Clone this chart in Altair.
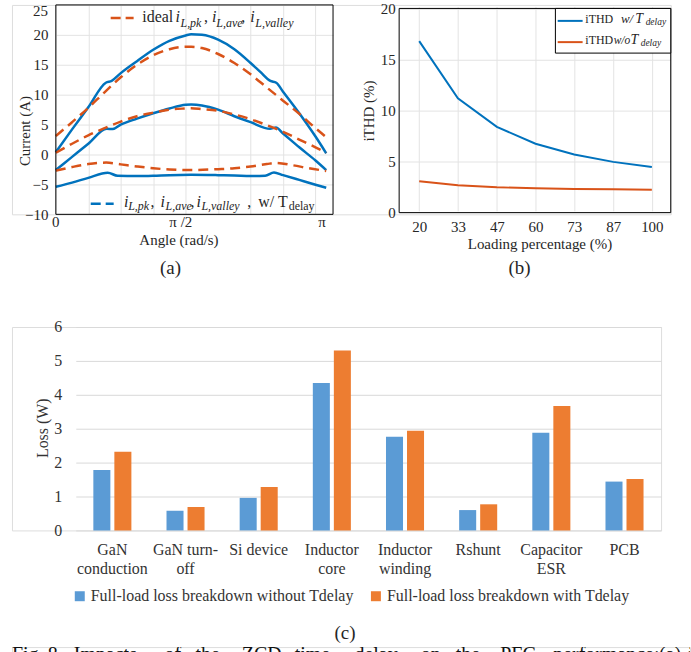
import altair as alt
import pandas as pd

FONT = "Liberation Serif"
TXT = "#262626"
BLUE = "#0072BD"
ORANGE = "#D95319"
GRID = "#e3e3e3"
XL_BLUE = "#5B9BD5"
XL_ORANGE = "#ED7D31"

# ---------------- (a) inductor current envelopes ----------------
# x: time inside a half line cycle in ms (8.33 ms = pi rad)
pk_t = [0, 0.5, 1.0, 1.54, 1.72, 2.0, 2.5, 3.0, 3.5, 4.0, 4.17, 4.5, 5.0, 5.5, 6.0, 6.3, 6.61, 6.79, 7.0, 7.5, 8.0, 8.33]
pk_delay = [0.4, 4.2, 7.9, 12.0, 12.3, 13.6, 15.6, 17.5, 19.0, 19.9, 20.1, 20.0, 19.2, 17.6, 15.3, 13.8, 12.3, 12.0, 10.5, 6.9, 3.0, 0.2]
ave_t = [0, 0.5, 1.0, 1.57, 1.75, 2.0, 2.5, 3.0, 3.5, 4.0, 4.17, 4.5, 5.0, 5.5, 6.0, 6.6, 6.78, 7.0, 7.5, 8.0, 8.33]
ave_delay = [-2.6, -0.4, 1.8, 4.3, 4.25, 5.0, 6.0, 6.9, 7.7, 8.3, 8.35, 8.2, 7.5, 6.4, 5.4, 4.3, 4.5, 3.5, 1.2, -1.0, -2.6]
val_t = [0, 0.5, 1.0, 1.6, 1.9, 2.5, 3.0, 3.5, 4.17, 5.0, 5.5, 6.0, 6.45, 6.72, 7.0, 7.5, 8.0, 8.33]
val_delay = [-5.4, -4.7, -3.9, -3.05, -3.55, -3.6, -3.55, -3.45, -3.4, -3.45, -3.5, -3.6, -3.55, -3.0, -3.45, -4.25, -5.05, -5.55]

id_t = [0, 0.5, 1.0, 1.5, 2.0, 2.5, 3.0, 3.5, 4.0, 4.17, 4.5, 5.0, 5.5, 6.0, 6.5, 7.0, 7.5, 8.0, 8.33]
pk_ideal = [3.1, 5.4, 7.8, 10.4, 12.9, 15.0, 16.6, 17.6, 18.0, 18.0, 17.8, 16.8, 15.3, 13.4, 11.2, 9.0, 6.8, 4.4, 2.9]
ave_ideal = [0.3, 1.8, 3.2, 4.4, 5.5, 6.4, 7.0, 7.5, 7.7, 7.75, 7.6, 7.3, 6.7, 5.9, 4.9, 3.8, 2.5, 1.2, 0.3]
vid_t = [0, 0.5, 1.0, 1.55, 2.0, 2.5, 3.0, 3.5, 4.17, 5.0, 5.5, 6.0, 6.5, 6.78, 7.3, 7.8, 8.33]
val_ideal = [-2.7, -2.1, -1.6, -1.35, -1.65, -2.0, -2.3, -2.5, -2.6, -2.45, -2.3, -2.0, -1.6, -1.4, -1.8, -2.3, -2.75]

a_tick_pos = [0, 3.85, 8.2]
a_tick_lab = ["0", "π /2", "π"]

# ---------------- (b) iTHD vs loading ----------------
load = [20, 33.3, 46.7, 60, 73.3, 86.7, 100]
thd_delay = [16.8, 11.2, 8.4, 6.75, 5.7, 4.97, 4.48]
thd_nodelay = [3.07, 2.68, 2.48, 2.39, 2.32, 2.29, 2.25]

# ---------------- (c) loss breakdown ----------------
cats = ["GaN|conduction", "GaN turn-|off", "Si device", "Inductor|core",
        "Inductor|winding", "Rshunt", "Capacitor|ESR", "PCB"]
loss_without = [1.78, 0.58, 0.96, 4.35, 2.76, 0.60, 2.88, 1.44]
loss_with = [2.32, 0.69, 1.28, 5.31, 2.94, 0.77, 3.67, 1.52]
series = ["Full-load loss breakdown without Tdelay", "Full-load loss breakdown with Tdelay"]

caption_words = ["Fig.", "8.", "Impacts", "of", "the", "ZCD", "time", "delay", "on", "the",
                 "PFC", "performance:", "(a)", "inductor"]
caption_x = [0, 36, 62, 153, 184, 230.5, 283.6, 343.5, 410, 445, 489.7, 542.8, 649, 678]


def dummy():
    return alt.Data(values=[{"k": 0}])


def note(text, x, y, size, italic=False, align="left", baseline="alphabetic", color=TXT, clip=False):
    kw = dict(text=text, font=FONT, fontSize=size, align=align, baseline=baseline, color=color)
    if italic:
        kw["fontStyle"] = "italic"
    if clip:
        kw["clip"] = True
    return alt.Chart(dummy()).mark_text(**kw).encode(x=alt.value(x), y=alt.value(y))


def seg(x1, x2, y, color, width, dash=None, opacity=1):
    kw = dict(color=color, strokeWidth=width, opacity=opacity)
    if dash:
        kw["strokeDash"] = dash
    return alt.Chart(dummy()).mark_rule(**kw).encode(
        x=alt.value(x1), x2=alt.value(x2), y=alt.value(y))


def frame(x1, x2, y1, y2, fill=None):
    kw = dict(stroke="black", strokeWidth=1)
    if fill:
        kw["fill"] = fill
    else:
        kw["fillOpacity"] = 0
    return alt.Chart(dummy()).mark_rect(**kw).encode(
        x=alt.value(x1), x2=alt.value(x2), y=alt.value(y1), y2=alt.value(y2))


def curves(ts, ys, names):
    rows = []
    for t, y, n in zip(ts, ys, names):
        for a, b in zip(t, y):
            rows.append({"t": a, "i": b, "curve": n})
    return pd.DataFrame(rows)


df_delay = curves([pk_t, ave_t, val_t], [pk_delay, ave_delay, val_delay], ["pk", "ave", "valley"])
df_ideal = curves([id_t, id_t, vid_t], [pk_ideal, ave_ideal, val_ideal], ["pk", "ave", "valley"])

title_kw = dict(titleFont=FONT, titleFontSize=15, titleFontWeight="normal", titleColor=TXT)
lab_kw = dict(labelFont=FONT, labelFontSize=15, labelColor=TXT)

# ================= top row: panels (a) and (b) in one view =================
# view origin = (11, 4) in page pixels
xa = alt.X("t:Q", scale=alt.Scale(domain=[0, 8.54], range=[44, 322], nice=False, zero=False),
           axis=alt.Axis(orient="bottom", values=list(range(0, 9)), labels=False, ticks=False,
                         domain=False, grid=True, gridColor=GRID, title="Angle (rad/s)",
                         titleX=167, titleY=25, titleBaseline="middle", **title_kw))
ya = alt.Y("i:Q", scale=alt.Scale(domain=[-10, 25], range=[210, 0], nice=False, zero=False),
           axis=alt.Axis(orient="left", offset=-44, values=list(range(-10, 30, 5)), grid=True,
                         gridColor=GRID, domain=False, ticks=False, labelPadding=8,
                         labelExpr="datum.value == 25 ? '' : datum.label",
                         title="Current (A)", titleX=-31.7, titleY=126, titleBaseline="middle",
                         **lab_kw, **title_kw))

ideal_lines = alt.Chart(df_ideal).mark_line(color=ORANGE, strokeWidth=2.5, strokeDash=[10, 6],
                                            interpolate="monotone").encode(x=xa, y=ya, detail="curve:N")
delay_lines = alt.Chart(df_delay).mark_line(color=BLUE, strokeWidth=2.5,
                                            interpolate="monotone").encode(x=xa, y=ya, detail="curve:N")
a_ticks = alt.Chart(pd.DataFrame({"t": a_tick_pos, "lab": a_tick_lab})).mark_text(
    font=FONT, fontSize=15, color=TXT, baseline="middle").encode(x=xa, text="lab:N", y=alt.value(217.7))

DX = 44
layer_a = alt.layer(
    delay_lines, ideal_lines, a_ticks, frame(44, 322, 0, 210),
    note("25", 36, 6, 15, align="right", baseline="middle"),
    seg(DX + 55, DX + 78, 13, ORANGE, 2.5, [10, 5]),
    note("ideal", DX + 86.7, 17.5, 16),
    note("i", DX + 120, 17.5, 16, True), note("L,pk", DX + 125, 22, 12, True), note(",", DX + 148.5, 17.5, 16),
    note("i", DX + 156.7, 17.5, 16, True), note("L,ave", DX + 161, 22, 12, True), note(",", DX + 186, 17.5, 16),
    note("i", DX + 195, 17.5, 16, True), note("L,valley", DX + 200, 22, 12, True),
    seg(DX + 35, DX + 58, 199.3, BLUE, 2.5, [10, 5]),
    note("i", DX + 68.3, 202.5, 16, True), note("L,pk", DX + 72.5, 206, 12, True), note(",", DX + 95, 202.5, 16),
    note("i", DX + 105, 202.5, 16, True), note("L,ave", DX + 110, 206, 12, True), note(",", DX + 135, 202.5, 16),
    note("i", DX + 141, 202.5, 16, True), note("L,valley", DX + 146, 206, 12, True),
    note(",", DX + 192, 202.5, 16),
    note("w/ T", DX + 203, 202.5, 16), note("delay", DX + 233.5, 206, 12),
    note("(a)", 159, 264, 19, align="center", baseline="middle"),
)

xb = alt.X("load:Q", scale=alt.Scale(domain=[13.1, 106.5], range=[388.3, 660.7], nice=False, zero=False),
           axis=alt.Axis(orient="bottom", offset=-1.7, values=load, labelExpr="format(datum.value, '.0f')",
                         grid=True, gridColor=GRID, domain=False, ticks=False, labelPadding=7,
                         title="Loading percentage (%)", titleX=529, titleY=31, titleBaseline="middle",
                         **lab_kw, **title_kw))
yb = alt.Y("thd:Q", scale=alt.Scale(domain=[0, 20], range=[208.3, 3.5], nice=False, zero=False),
           axis=alt.Axis(orient="left", offset=-388.3, values=[0, 5, 10, 15, 20], grid=True, gridColor=GRID,
                         domain=False, ticks=False, labelPadding=4, title="iTHD (%)", titleX=-31,
                         titleY=106, titleBaseline="middle", **lab_kw, **title_kw))
line_w = alt.Chart(pd.DataFrame({"load": load, "thd": thd_delay})).mark_line(
    color=BLUE, strokeWidth=2).encode(x=xb, y=yb)
line_wo = alt.Chart(pd.DataFrame({"load": load, "thd": thd_nodelay})).mark_line(
    color=ORANGE, strokeWidth=2).encode(x=xb, y=yb)
layer_b = alt.layer(
    line_w, line_wo, frame(388.3, 660.7, 3.5, 208.3), frame(545, 660.7, 3.5, 48.3, fill="white"),
    seg(547.3, 572.3, 16, BLUE, 2),
    note("iTHD", 575, 18.5, 12), note("w/", 610.7, 18.5, 13, True),
    note("T", 625.2, 18.5, 14, True), note("delay", 635.5, 20.5, 9.5, True),
    seg(547.3, 572.3, 37.3, ORANGE, 2),
    note("iTHD", 575, 39, 12), note("w/o", 603.5, 39, 11.5, True),
    note("T", 620.2, 39, 14, True), note("delay", 630.5, 41, 9.5, True),
    note("(b)", 509, 264, 19, align="center", baseline="middle"),
)

top = alt.layer(layer_a, layer_b).resolve_scale(x="independent", y="independent").properties(
    width=660.7, height=210)

# ================= panel (c) =================
rows = []
for c, a, b in zip(cats, loss_without, loss_with):
    rows.append({"cat": c, "series": series[0], "loss": a})
    rows.append({"cat": c, "series": series[1], "loss": b})
dfc = pd.DataFrame(rows)

bars = alt.Chart(dfc).mark_bar().encode(
    x=alt.X("cat:N", sort=cats, scale=alt.Scale(range=[64, 651], paddingInner=0.48, paddingOuter=0.24),
            axis=alt.Axis(title=None, labelExpr="split(datum.label, '|')", labelAngle=0, labelFont=FONT,
                          labelFontSize=16, labelColor="#333333", labelPadding=11, labelLineHeight=19,
                          domain=False, ticks=False, labelBaseline="top")),
    xOffset=alt.XOffset("series:N", sort=series, scale=alt.Scale(paddingInner=0.19)),
    y=alt.Y("loss:Q", scale=alt.Scale(domain=[0, 6], nice=False),
            axis=alt.Axis(offset=-64, values=list(range(0, 7)), grid=True, gridColor="#d9d9d9", domain=False,
                          ticks=False, labelPadding=14, labelFont=FONT, labelFontSize=16,
                          labelColor="#333333", title="Loss (W)", titleFont=FONT, titleFontSize=16,
                          titleFontWeight="normal", titleColor="#333333", titleX=-33, titleY=101,
                          titleBaseline="middle")),
    color=alt.Color("series:N", sort=series, scale=alt.Scale(domain=series, range=[XL_BLUE, XL_ORANGE]),
                    legend=alt.Legend(orient="none", legendX=60, legendY=585, direction="horizontal",
                                      title=None, symbolType="square", symbolSize=100,
                                      symbolStrokeWidth=0, labelFont=FONT, labelFontSize=16,
                                      labelColor="#333333", columnPadding=14, labelLimit=500,
                                      labelOffset=3, padding=0)),
)
chart_c = alt.layer(
    bars, note("(c)", 334, 307, 19, align="center", baseline="middle"),
    seg(0, 1, -45.5, "white", 1, opacity=0),
).properties(width=651, height=204)

# ================= cut-off figure caption at the page bottom =================
cap_layers = [note(w, x, 14, 20, color="#111111", clip=True) for w, x in zip(caption_words, caption_x)]
chart_cap = alt.layer(*cap_layers).properties(width=680, height=7)

chart = alt.vconcat(top, chart_c, chart_cap, spacing=2).properties(
    padding={"left": 11, "top": 0, "right": 0, "bottom": 0}
).configure_view(stroke="transparent").configure(background="white")

chart.save("out.html", embed_options={"renderer": "svg", "actions": False})
